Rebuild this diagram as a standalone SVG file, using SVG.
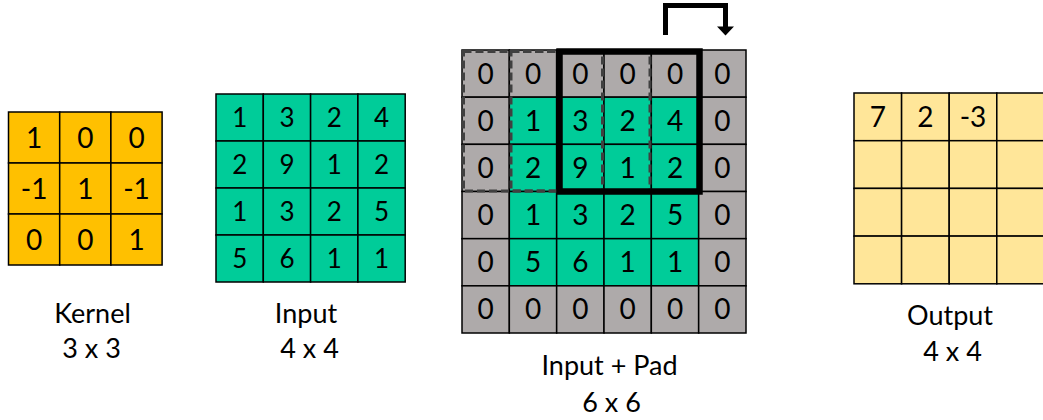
<svg xmlns="http://www.w3.org/2000/svg" width="1043" height="420" viewBox="0 0 1043 420">
  <style>
    .cell { stroke: #000; stroke-width: 1.5; }
    .k { fill: #FFC000; }
    .g { fill: #00CC99; }
    .p { fill: #AEAAAA; }
    .o { fill: #FFE699; }
    text { font-family: Lato, "Liberation Sans", sans-serif; fill: #000; text-anchor: middle; }
    .num { font-size: 28px; }
    .num-s { font-size: 26px; }
    .label { font-size: 27px; }
    .prev { fill: none; stroke: #404040; stroke-width: 3; stroke-dasharray: 8 4; }
    .win { fill: none; stroke: #000; stroke-width: 6.5; }
    .arrow { fill: none; stroke: #000; stroke-width: 5; }
  </style>

  <rect width="1043" height="420" fill="#fff"/>

  <!-- Kernel 3x3 -->
  <g id="kernel">
    <rect class="cell k" x="8.5" y="112" width="51.2" height="51"/>
    <rect class="cell k" x="59.7" y="112" width="51.2" height="51"/>
    <rect class="cell k" x="110.9" y="112" width="51.2" height="51"/>
    <rect class="cell k" x="8.5" y="163" width="51.2" height="51"/>
    <rect class="cell k" x="59.7" y="163" width="51.2" height="51"/>
    <rect class="cell k" x="110.9" y="163" width="51.2" height="51"/>
    <rect class="cell k" x="8.5" y="214" width="51.2" height="51"/>
    <rect class="cell k" x="59.7" y="214" width="51.2" height="51"/>
    <rect class="cell k" x="110.9" y="214" width="51.2" height="51"/>
    <text class="num" x="34.1" y="147.5">1</text>
    <text class="num" x="85.3" y="147.5">0</text>
    <text class="num" x="136.5" y="147.5">0</text>
    <text class="num" x="34.1" y="198.5">-1</text>
    <text class="num" x="85.3" y="198.5">1</text>
    <text class="num" x="136.5" y="198.5">-1</text>
    <text class="num" x="34.1" y="249.5">0</text>
    <text class="num" x="85.3" y="249.5">0</text>
    <text class="num" x="136.5" y="249.5">1</text>
    <text class="label" x="92.5" y="323">Kernel</text>
    <text class="label" x="91.5" y="358">3 x 3</text>
  </g>

  <!-- Input 4x4 -->
  <g id="input">
    <rect class="cell g" x="216" y="94" width="47.3" height="47"/>
    <rect class="cell g" x="263.3" y="94" width="47.3" height="47"/>
    <rect class="cell g" x="310.6" y="94" width="47.3" height="47"/>
    <rect class="cell g" x="357.9" y="94" width="47.3" height="47"/>
    <rect class="cell g" x="216" y="141" width="47.3" height="47"/>
    <rect class="cell g" x="263.3" y="141" width="47.3" height="47"/>
    <rect class="cell g" x="310.6" y="141" width="47.3" height="47"/>
    <rect class="cell g" x="357.9" y="141" width="47.3" height="47"/>
    <rect class="cell g" x="216" y="188" width="47.3" height="47"/>
    <rect class="cell g" x="263.3" y="188" width="47.3" height="47"/>
    <rect class="cell g" x="310.6" y="188" width="47.3" height="47"/>
    <rect class="cell g" x="357.9" y="188" width="47.3" height="47"/>
    <rect class="cell g" x="216" y="235" width="47.3" height="47"/>
    <rect class="cell g" x="263.3" y="235" width="47.3" height="47"/>
    <rect class="cell g" x="310.6" y="235" width="47.3" height="47"/>
    <rect class="cell g" x="357.9" y="235" width="47.3" height="47"/>
    <text class="num-s" x="239.7" y="126.8">1</text>
    <text class="num-s" x="287" y="126.8">3</text>
    <text class="num-s" x="334.3" y="126.8">2</text>
    <text class="num-s" x="381.6" y="126.8">4</text>
    <text class="num-s" x="239.7" y="173.8">2</text>
    <text class="num-s" x="287" y="173.8">9</text>
    <text class="num-s" x="334.3" y="173.8">1</text>
    <text class="num-s" x="381.6" y="173.8">2</text>
    <text class="num-s" x="239.7" y="220.8">1</text>
    <text class="num-s" x="287" y="220.8">3</text>
    <text class="num-s" x="334.3" y="220.8">2</text>
    <text class="num-s" x="381.6" y="220.8">5</text>
    <text class="num-s" x="239.7" y="267.8">5</text>
    <text class="num-s" x="287" y="267.8">6</text>
    <text class="num-s" x="334.3" y="267.8">1</text>
    <text class="num-s" x="381.6" y="267.8">1</text>
    <text class="label" x="306" y="323">Input</text>
    <text class="label" x="309.5" y="358">4 x 4</text>
  </g>

  <!-- Input + Pad 6x6 -->
  <g id="padded">
    <rect class="cell p" x="462" y="50" width="47.33" height="47.17"/>
    <rect class="cell p" x="509.33" y="50" width="47.33" height="47.17"/>
    <rect class="cell p" x="556.67" y="50" width="47.33" height="47.17"/>
    <rect class="cell p" x="604" y="50" width="47.33" height="47.17"/>
    <rect class="cell p" x="651.33" y="50" width="47.33" height="47.17"/>
    <rect class="cell p" x="698.67" y="50" width="47.33" height="47.17"/>

    <rect class="cell p" x="462" y="97.17" width="47.33" height="47.17"/>
    <rect class="cell g" x="509.33" y="97.17" width="47.33" height="47.17"/>
    <rect class="cell g" x="556.67" y="97.17" width="47.33" height="47.17"/>
    <rect class="cell g" x="604" y="97.17" width="47.33" height="47.17"/>
    <rect class="cell g" x="651.33" y="97.17" width="47.33" height="47.17"/>
    <rect class="cell p" x="698.67" y="97.17" width="47.33" height="47.17"/>

    <rect class="cell p" x="462" y="144.33" width="47.33" height="47.17"/>
    <rect class="cell g" x="509.33" y="144.33" width="47.33" height="47.17"/>
    <rect class="cell g" x="556.67" y="144.33" width="47.33" height="47.17"/>
    <rect class="cell g" x="604" y="144.33" width="47.33" height="47.17"/>
    <rect class="cell g" x="651.33" y="144.33" width="47.33" height="47.17"/>
    <rect class="cell p" x="698.67" y="144.33" width="47.33" height="47.17"/>

    <rect class="cell p" x="462" y="191.5" width="47.33" height="47.17"/>
    <rect class="cell g" x="509.33" y="191.5" width="47.33" height="47.17"/>
    <rect class="cell g" x="556.67" y="191.5" width="47.33" height="47.17"/>
    <rect class="cell g" x="604" y="191.5" width="47.33" height="47.17"/>
    <rect class="cell g" x="651.33" y="191.5" width="47.33" height="47.17"/>
    <rect class="cell p" x="698.67" y="191.5" width="47.33" height="47.17"/>

    <rect class="cell p" x="462" y="238.67" width="47.33" height="47.17"/>
    <rect class="cell g" x="509.33" y="238.67" width="47.33" height="47.17"/>
    <rect class="cell g" x="556.67" y="238.67" width="47.33" height="47.17"/>
    <rect class="cell g" x="604" y="238.67" width="47.33" height="47.17"/>
    <rect class="cell g" x="651.33" y="238.67" width="47.33" height="47.17"/>
    <rect class="cell p" x="698.67" y="238.67" width="47.33" height="47.17"/>

    <rect class="cell p" x="462" y="285.83" width="47.33" height="47.17"/>
    <rect class="cell p" x="509.33" y="285.83" width="47.33" height="47.17"/>
    <rect class="cell p" x="556.67" y="285.83" width="47.33" height="47.17"/>
    <rect class="cell p" x="604" y="285.83" width="47.33" height="47.17"/>
    <rect class="cell p" x="651.33" y="285.83" width="47.33" height="47.17"/>
    <rect class="cell p" x="698.67" y="285.83" width="47.33" height="47.17"/>

    <text class="num" x="485.7" y="83.6">0</text>
    <text class="num" x="533" y="83.6">0</text>
    <text class="num" x="580.3" y="83.6">0</text>
    <text class="num" x="627.7" y="83.6">0</text>
    <text class="num" x="675" y="83.6">0</text>
    <text class="num" x="722.3" y="83.6">0</text>

    <text class="num" x="485.7" y="130.8">0</text>
    <text class="num" x="533" y="130.8">1</text>
    <text class="num" x="580.3" y="130.8">3</text>
    <text class="num" x="627.7" y="130.8">2</text>
    <text class="num" x="675" y="130.8">4</text>
    <text class="num" x="722.3" y="130.8">0</text>

    <text class="num" x="485.7" y="177.9">0</text>
    <text class="num" x="533" y="177.9">2</text>
    <text class="num" x="580.3" y="177.9">9</text>
    <text class="num" x="627.7" y="177.9">1</text>
    <text class="num" x="675" y="177.9">2</text>
    <text class="num" x="722.3" y="177.9">0</text>

    <text class="num" x="485.7" y="225.1">0</text>
    <text class="num" x="533" y="225.1">1</text>
    <text class="num" x="580.3" y="225.1">3</text>
    <text class="num" x="627.7" y="225.1">2</text>
    <text class="num" x="675" y="225.1">5</text>
    <text class="num" x="722.3" y="225.1">0</text>

    <text class="num" x="485.7" y="272.3">0</text>
    <text class="num" x="533" y="272.3">5</text>
    <text class="num" x="580.3" y="272.3">6</text>
    <text class="num" x="627.7" y="272.3">1</text>
    <text class="num" x="675" y="272.3">1</text>
    <text class="num" x="722.3" y="272.3">0</text>

    <text class="num" x="485.7" y="319.4">0</text>
    <text class="num" x="533" y="319.4">0</text>
    <text class="num" x="580.3" y="319.4">0</text>
    <text class="num" x="627.7" y="319.4">0</text>
    <text class="num" x="675" y="319.4">0</text>
    <text class="num" x="722.3" y="319.4">0</text>

    <text class="label" x="609.5" y="375">Input + Pad</text>
    <text class="label" x="611.5" y="412">6 x 6</text>
  </g>

  <!-- Kernel windows: two earlier positions (dashed) and the current one -->
  <g id="windows">
    <rect class="prev" x="463.5" y="51.5" width="139" height="139.5"/>
    <rect class="prev" x="511" y="51.5" width="139" height="139.5"/>
    <rect class="win" x="559.5" y="51.5" width="140" height="140"/>
  </g>

  <!-- Stride arrow -->
  <g id="connectors">
    <path class="arrow" d="M665.5 35 V5.5 H725.5 V28"/>
    <polygon points="717,26.5 734,26.5 725.5,35.5" fill="#000"/>
  </g>

  <!-- Output 4x4 -->
  <g id="output">
    <rect class="cell o" x="854" y="93" width="47.6" height="47.7"/>
    <rect class="cell o" x="901.6" y="93" width="47.6" height="47.7"/>
    <rect class="cell o" x="949.2" y="93" width="47.6" height="47.7"/>
    <rect class="cell o" x="996.8" y="93" width="47.6" height="47.7"/>
    <rect class="cell o" x="854" y="140.7" width="47.6" height="47.7"/>
    <rect class="cell o" x="901.6" y="140.7" width="47.6" height="47.7"/>
    <rect class="cell o" x="949.2" y="140.7" width="47.6" height="47.7"/>
    <rect class="cell o" x="996.8" y="140.7" width="47.6" height="47.7"/>
    <rect class="cell o" x="854" y="188.4" width="47.6" height="47.7"/>
    <rect class="cell o" x="901.6" y="188.4" width="47.6" height="47.7"/>
    <rect class="cell o" x="949.2" y="188.4" width="47.6" height="47.7"/>
    <rect class="cell o" x="996.8" y="188.4" width="47.6" height="47.7"/>
    <rect class="cell o" x="854" y="236.1" width="47.6" height="47.7"/>
    <rect class="cell o" x="901.6" y="236.1" width="47.6" height="47.7"/>
    <rect class="cell o" x="949.2" y="236.1" width="47.6" height="47.7"/>
    <rect class="cell o" x="996.8" y="236.1" width="47.6" height="47.7"/>
    <text class="num" x="877.8" y="126.8">7</text>
    <text class="num" x="925.4" y="126.8">2</text>
    <text class="num" x="973" y="126.8">-3</text>
    <text class="label" x="950" y="325">Output</text>
    <text class="label" x="952.5" y="361">4 x 4</text>
  </g>
</svg>
